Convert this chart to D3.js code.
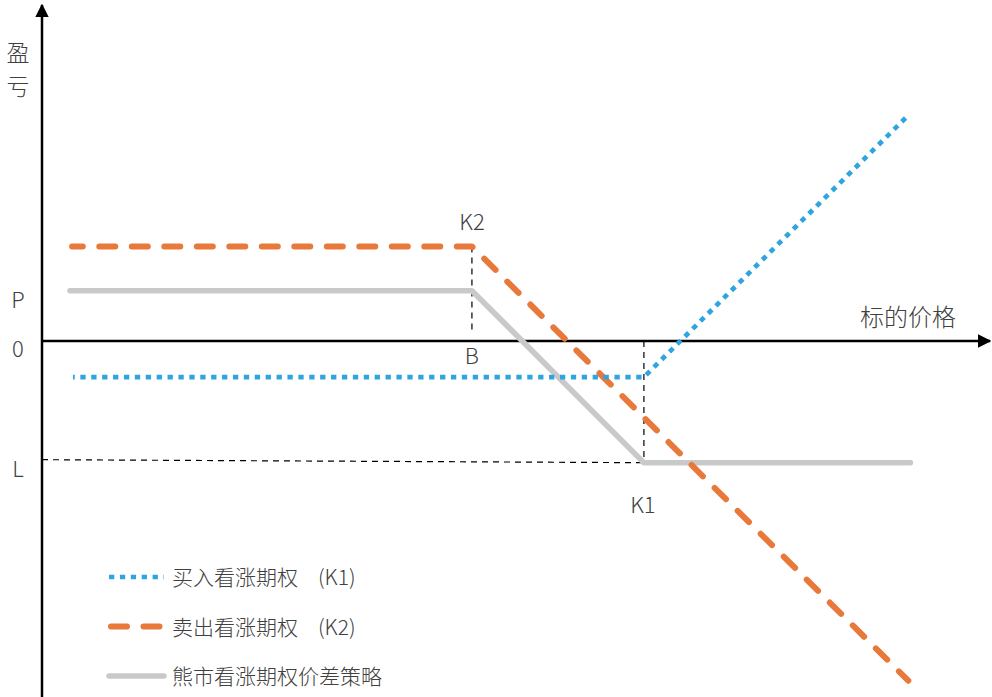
<!DOCTYPE html>
<html>
<head>
<meta charset="utf-8">
<script src="https://cdn.jsdelivr.net/npm/d3@7"></script>
<style>
  body { margin: 0; background: #fff; }
  text { font-family: "Noto Sans CJK SC", "Noto Sans", sans-serif; font-weight: 300; fill: #404040; }
</style>
</head>
<body>
<div id="chart"></div>
<script>
// strike prices and payoff levels (price units / payoff units)
const K2 = 10
const K1 = 14
const premiumP = 1.17
const lossL = -2.83

// series: underlying price -> payoff
const buyCallX = [0.72, K1, 20.1]
const buyCallY = [-0.84, -0.84, 5.2]
const sellCallX = [0.7, K2, 20.15]
const sellCallY = [2.2, 2.2, -7.9]
const spreadX = [0.65, K2, K1, 20.2]
const spreadY = [premiumP, premiumP, lossL, lossL]

const legendLabels = ["买入看涨期权", "卖出看涨期权", "熊市看涨期权价差策略"]
const legendTags = ["(K1)", "(K2)", ""]

const width = 992
const height = 697

const svg = d3.select("#chart")
    .append("svg")
    .attr("width", width)
    .attr("height", height)

const xScale = d3.scaleLinear()
    .domain([0, 22.05])
    .range([42, 990])

const yScale = d3.scaleLinear()
    .domain([-8, 7.8])
    .range([685, 5.6])

const line = d3.line()
    .x(d => xScale(d[0]))
    .y(d => yScale(d[1]))

// axes with arrows
svg.append("defs").append("marker")
    .attr("id", "arrow")
    .attr("viewBox", "0 0 10 10")
    .attr("refX", 9)
    .attr("refY", 5)
    .attr("markerWidth", 5.5)
    .attr("markerHeight", 5.5)
    .attr("orient", "auto")
    .append("path")
    .attr("d", "M0,0 L10,5 L0,10 Z")
    .attr("fill", "#000")

svg.append("line")
    .attr("x1", xScale(0)).attr("x2", xScale(0))
    .attr("y1", height).attr("y2", 5)
    .attr("stroke", "#000").attr("stroke-width", 2.5)
    .attr("marker-end", "url(#arrow)")

svg.append("line")
    .attr("x1", xScale(0)).attr("x2", 990)
    .attr("y1", yScale(0)).attr("y2", yScale(0))
    .attr("stroke", "#000").attr("stroke-width", 2.5)
    .attr("marker-end", "url(#arrow)")

// guide lines
const guides = [
    [[K2, sellCallY[1]], [K2, 0.18]],
    [[K1, 0], [K1, lossL]],
    [[0, lossL + 0.07], [K1, lossL]],
]
svg.selectAll(".guide")
    .data(guides)
    .join("path")
    .attr("class", "guide")
    .attr("d", line)
    .attr("fill", "none")
    .attr("stroke", "#000")
    .attr("stroke-width", 1.2)
    .attr("stroke-dasharray", "6,5")

// series
const series = [
    { pts: d3.zip(spreadX, spreadY), color: "#c9c9c9", width: 5.5, dash: null, cap: "round", offset: 0 },
    { pts: d3.zip(sellCallX, sellCallY), color: "#e8793a", width: 6, dash: "16,16.5", cap: "round", offset: 5.3 },
    { pts: d3.zip(buyCallX, buyCallY), color: "#2ea5df", width: 4.7, dash: "5.3,5.6", cap: "butt", offset: 3.5 },
]

svg.selectAll(".series")
    .data(series)
    .join("path")
    .attr("class", "series")
    .attr("d", d => line(d.pts))
    .attr("fill", "none")
    .attr("stroke", d => d.color)
    .attr("stroke-width", d => d.width)
    .attr("stroke-dasharray", d => d.dash)
    .attr("stroke-dashoffset", d => d.offset)
    .attr("stroke-linecap", d => d.cap)
    .attr("stroke-linejoin", "round")

// labels
svg.append("text").attr("x", 18).attr("y", 61).attr("text-anchor", "middle").style("font-size", "23px").text("盈")
svg.append("text").attr("x", 18).attr("y", 95).attr("text-anchor", "middle").style("font-size", "23px").text("亏")

const axisLabels = [
    { t: "P", v: premiumP, dy: 17 },
    { t: "0", v: 0, dy: 16 },
    { t: "L", v: lossL, dy: 14 },
]
svg.selectAll(".ylab")
    .data(axisLabels)
    .join("text")
    .attr("class", "ylab")
    .attr("x", 18)
    .attr("y", d => yScale(d.v) + d.dy)
    .attr("text-anchor", "middle")
    .style("font-size", "22px")
    .text(d => d.t)

svg.append("text").attr("x", xScale(K2)).attr("y", 230).attr("text-anchor", "middle").style("font-size", "22px").text("K2")
svg.append("text").attr("x", xScale(K2)).attr("y", 364).attr("text-anchor", "middle").style("font-size", "22px").text("B")
svg.append("text").attr("x", xScale(K1) - 1).attr("y", 513).attr("text-anchor", "middle").style("font-size", "22px").text("K1")
svg.append("text").attr("x", 908).attr("y", 326).attr("text-anchor", "middle").style("font-size", "24px").text("标的价格")

// legend
const legend = svg.selectAll(".legend")
    .data(series.slice().reverse())
    .join("g")
    .attr("class", "legend")
    .attr("transform", (d, i) => `translate(108, ${577 + i * 49.5})`)

legend.append("line")
    .attr("x1", (d, i) => i === 1 ? 3 : 1).attr("x2", 56)
    .attr("stroke", d => d.color)
    .attr("stroke-width", d => d.width)
    .attr("stroke-dasharray", d => d.dash)
    .attr("stroke-linecap", d => d.cap)

const legendText = legend.append("text")
    .attr("x", 64)
    .attr("y", 8)
    .style("font-size", "21px")
legendText.append("tspan").text((d, i) => legendLabels[i])
legendText.append("tspan").attr("x", 210).text((d, i) => legendTags[i])
</script>
</body>
</html>
